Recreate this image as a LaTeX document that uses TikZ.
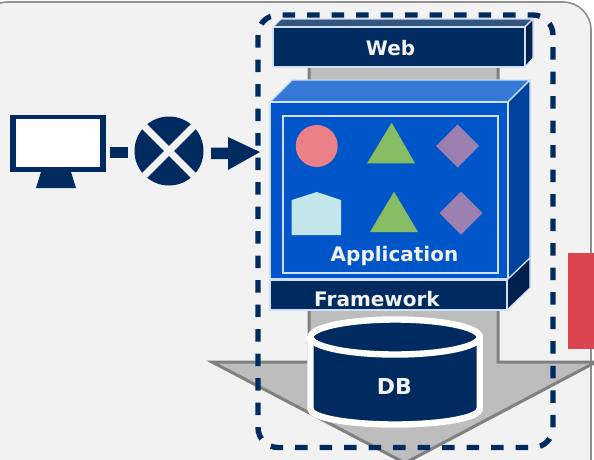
\documentclass[tikz,border=0pt]{standalone}
\usepackage{fontspec}
\setmainfont{DejaVu Sans}
\definecolor{navy}{HTML}{002B60}
\definecolor{panelbg}{HTML}{F2F2F2}
\definecolor{panelln}{HTML}{8F8F8F}
\definecolor{arrowbg}{HTML}{BDBDBD}
\definecolor{arrowln}{HTML}{808080}
\definecolor{edge}{HTML}{CFE0F8}
\definecolor{appfront}{HTML}{0056C8}
\definecolor{apptop}{HTML}{3578D6}
\definecolor{appside}{HTML}{00429E}
\definecolor{webtop}{HTML}{33557F}
\definecolor{fwside}{HTML}{00214C}
\definecolor{redbox}{HTML}{DC4550}
\definecolor{pink}{HTML}{EB8088}
\definecolor{leaf}{HTML}{85BC64}
\definecolor{purp}{HTML}{9B80B0}
\definecolor{pale}{HTML}{C3E6EA}
\tikzset{
  face/.style={draw=edge,line width=1.2pt,line join=round},
  lbl/.style={text=panelbg,font=\fontsize{20}{24}\selectfont\bfseries,inner sep=0pt},
  lblbig/.style={lbl,font=\fontsize{22}{26}\selectfont\bfseries},
}
\begin{document}
\begin{tikzpicture}[x=1pt,y=-1pt]
\useasboundingbox (0,0) rectangle (594,459);
\clip (0,0) rectangle (594,459);
% panel
\draw[draw=panelln,fill=panelbg,line width=1.6pt,rounded corners=28pt] (-20,2) rectangle (591,490);
% red block
\fill[redbox] (568,253) rectangle (600,349);
% gray arrow
\draw[fill=arrowbg,draw=arrowln,line width=3pt,line join=miter]
  (309,64) -- (309,362) -- (212,362) -- (405,463) -- (596,362) -- (498,362) -- (498,64) -- cycle;
% web box
\draw[face,fill=webtop] (273,27) -- (281,19) -- (533,19) -- (525,27) -- cycle;
\draw[face,fill=fwside] (525,27) -- (533,19) -- (533,58) -- (525,67) -- cycle;
\draw[face,fill=navy] (273,27) rectangle (525,67);
\node[lbl] (web) at (390.5,48.5) {Web};
% application box
\draw[face,fill=apptop] (270,102) -- (292,80) -- (530,80) -- (508,102) -- cycle;
\draw[face,fill=appside] (508,102) -- (530,80) -- (530,258) -- (508,279) -- cycle;
\draw[face,fill=appfront] (270,102) rectangle (508,279);
\draw[draw=edge,line width=1.3pt] (283,116) rectangle (498,273);
\fill[pink] (316.7,146) circle (21);
\fill[leaf] (391.7,122.7) -- (415,163.3) -- (367,163.3) -- cycle;
\fill[purp] (457.7,124.5) -- (479.2,146) -- (457.7,167.5) -- (436.2,146) -- cycle;
\fill[pale] (291.7,200) -- (316.7,192) -- (341,200) -- (341,235) -- (291.7,235) -- cycle;
\fill[leaf] (394,191.7) -- (418,232) -- (370,232) -- cycle;
\fill[purp] (461,191.5) -- (482.5,213) -- (461,234.5) -- (439.5,213) -- cycle;
\node[lbl] (app) at (394.5,256) {Application};
% framework box
\draw[face,fill=fwside] (507,280) -- (530,258) -- (530,288) -- (507,310) -- cycle;
\draw[face,fill=navy] (270,280) rectangle (507,310);
\node[lbl] (fw) at (377,299.5) {Framework};
% dashed boundary
\draw[navy,line width=5.4pt,dash pattern=on 12.5pt off 12pt,rounded corners=20pt] (258,15) rectangle (553,447.5);
% database
\draw[fill=navy,draw=white,line width=6.4pt] (310.5,337) -- (310.5,409) arc[start angle=180,end angle=0,x radius=84.6,y radius=15.5] -- (479.7,337) arc[start angle=0,end angle=-180,x radius=84.6,y radius=15.5] -- cycle;
\draw[fill=navy,draw=white,line width=6.4pt] (395.1,337) ellipse [x radius=84.6,y radius=17.5];
\node[lblbig] (db) at (394.5,386.5) {DB};
% client
\fill[navy] (10,115) rectangle (106,172);
\fill[white] (16,119) rectangle (100,167);
\fill[navy] (41,172) -- (71,172) -- (76,188) -- (36,188) -- cycle;
\fill[navy] (110,147) rectangle (128,158);
\fill[navy] (169,151) circle (34.5);
\draw[panelbg,line width=7pt] (140,122) -- (198,180) (198,122) -- (140,180);
\fill[navy] (211,147.5) -- (228,147.5) -- (228,137) -- (260,152) -- (228,170) -- (228,159) -- (211,159) -- cycle;
\end{tikzpicture}
\end{document}
